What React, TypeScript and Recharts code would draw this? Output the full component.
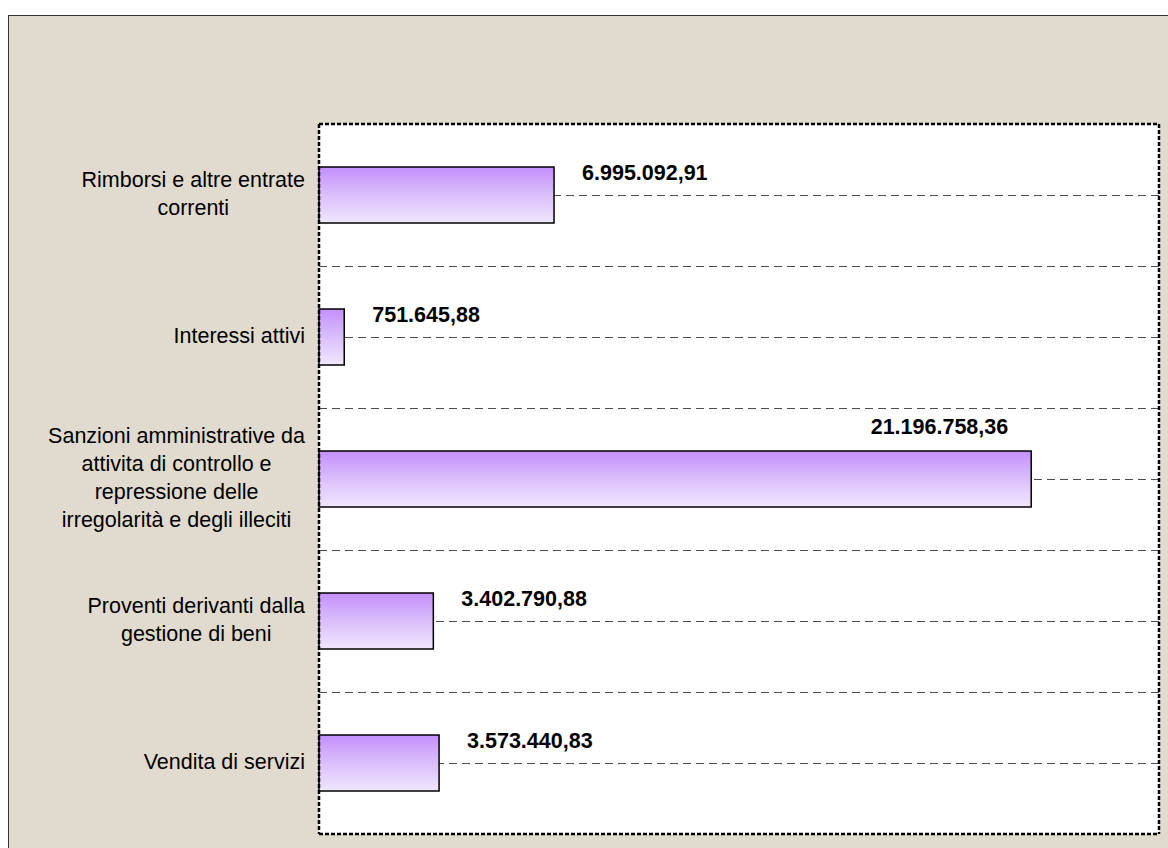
import React from 'react';
import { BarChart, Bar, XAxis, YAxis, CartesianGrid, LabelList } from 'recharts';

const categories = [
  'Rimborsi e altre entrate\ncorrenti',
  'Interessi attivi',
  'Sanzioni amministrative da\nattivita di controllo e\nrepressione delle\nirregolarità e degli illeciti',
  'Proventi derivanti dalla\ngestione di beni',
  'Vendita di servizi',
];
const amounts = [6995092.91, 751645.88, 21196758.36, 3402790.88, 3573440.83];
const xDomain: [number, number] = [0, 25000000];

const data = categories.map((name, i) => ({ name, value: amounts[i] }));

const FONT = '"Liberation Sans", Arial, sans-serif';
const FS = 21.5;
const BORDER = { stroke: '#000', strokeWidth: 2.5, strokeDasharray: '4 2' };

// it-IT style: 6.995.092,91
function fmt(v: number) {
  const [int, dec] = v.toFixed(2).split('.');
  return int.replace(/\B(?=(\d{3})+(?!\d))/g, '.') + ',' + dec;
}

let ctx: CanvasRenderingContext2D | null = null;
function textWidth(s: string) {
  if (!ctx) ctx = document.createElement('canvas').getContext('2d');
  if (!ctx) return s.length * 10;
  ctx.font = `${FS}px ${FONT}`;
  return ctx.measureText(s).width;
}

function CategoryTick({ x, y, payload }: any) {
  const lines = String(payload.value).split('\n');
  const w = Math.max(...lines.map(textWidth));
  const lh = 28;
  const y0 = y - ((lines.length - 1) * lh) / 2 - 1;
  return (
    <g>
      {lines.map((l, i) => (
        <text key={i} x={x - w / 2} y={y0 + i * lh} textAnchor="middle" dominantBaseline="central"
          fontFamily={FONT} fontSize={FS} fill="#000">
          {l}
        </text>
      ))}
    </g>
  );
}

function ValueLabel(props: any) {
  const { x, y, width, value } = props;
  const end = Number(x) + Number(width);
  const big = value / xDomain[1] > 0.7;
  return (
    <text
      x={big ? end - 23 : end + 28}
      y={big ? Number(y) - 24 : Number(y) + 6}
      textAnchor={big ? 'end' : 'start'}
      dominantBaseline="central"
      fontFamily={FONT}
      fontSize={FS}
      fontWeight="bold"
      fill="#000"
    >
      {fmt(value)}
    </text>
  );
}

// gridlines at category boundaries and at category centres
const gridLines = ({ offset }: any) => {
  const n = categories.length;
  const band = offset.height / n;
  const out: number[] = [];
  for (let i = 1; i < n; i++) out.push(Math.round(offset.top + i * band) + 0.5);
  for (let i = 0; i < n; i++) out.push(Math.round(offset.top + (i + 0.5) * band) + 0.5);
  return out;
};

export default function App() {
  return (
    <div
      style={{
        position: 'fixed', left: 8, top: 15, width: 1160, height: 833, boxSizing: 'border-box',
        borderTop: '1px solid #333', borderLeft: '1px solid #333', background: '#e1dbcf', overflow: 'hidden',
      }}
    >
      <BarChart width={1159} height={832} data={data} layout="vertical"
        margin={{ top: 107, right: 8, bottom: 13, left: 0 }}>
        <defs>
          <linearGradient id="barFill" x1="0" y1="0" x2="0" y2="1">
            <stop offset="0%" stopColor="#c48efc" />
            <stop offset="45%" stopColor="#d8bafb" />
            <stop offset="100%" stopColor="#f1e7fe" />
          </linearGradient>
        </defs>
        <CartesianGrid vertical={false} fill="#fff" stroke="#4d4d4d" strokeDasharray="8 5"
          horizontalCoordinatesGenerator={gridLines} />
        <XAxis type="number" domain={xDomain} height={1} tick={false} tickLine={false} axisLine={BORDER} />
        <XAxis xAxisId="top" orientation="top" type="number" domain={xDomain} height={1} tick={false}
          tickLine={false} axisLine={BORDER} />
        <YAxis type="category" dataKey="name" width={310} tickSize={0} tickMargin={14} tickLine={false}
          axisLine={BORDER} tick={<CategoryTick />} interval={0} />
        <YAxis yAxisId="right" orientation="right" type="category" dataKey="name" width={1} tick={false}
          tickLine={false} axisLine={BORDER} />
        <Bar dataKey="value" barSize={56} fill="url(#barFill)" stroke="#000" strokeWidth={1.5}
          isAnimationActive={false}>
          <LabelList dataKey="value" content={<ValueLabel />} />
        </Bar>
      </BarChart>
    </div>
  );
}
